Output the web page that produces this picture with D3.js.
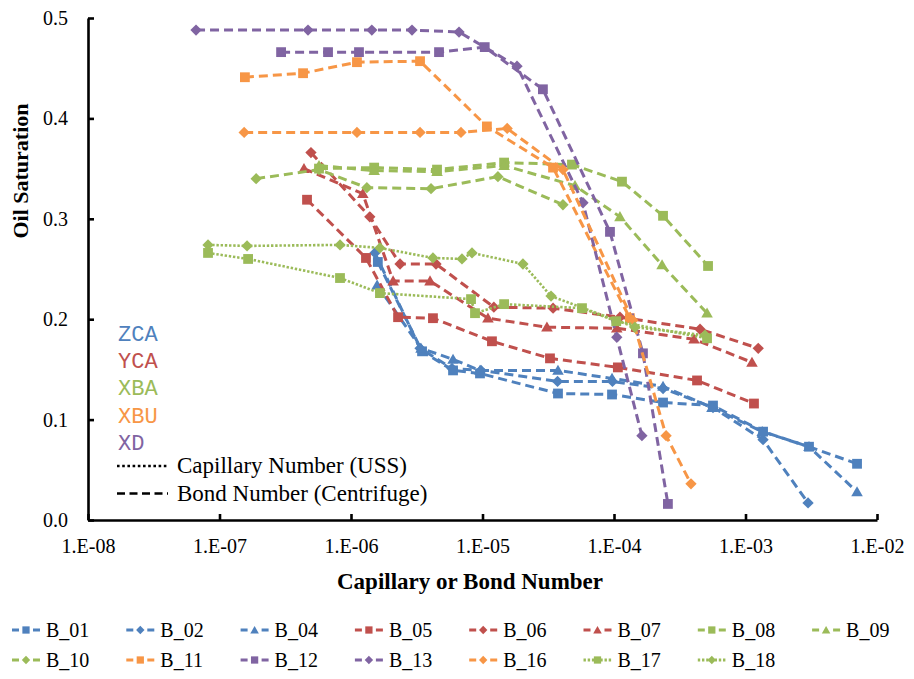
<!DOCTYPE html>
<html>
<head>
<meta charset="utf-8">
<script src="https://cdn.jsdelivr.net/npm/d3@7"></script>
<style>
  body { margin: 0; background: #fff; }
  svg { display: block; font-family: "Liberation Serif", "Times New Roman", serif; }
</style>
</head>
<body>
<svg id="chart"></svg>
<script>
// Axis ticks
const X_TICKS = [1e-8, 1e-7, 1e-6, 1e-5, 1e-4, 1e-3, 1e-2];
const X_TICK_LABELS = ["1.E-08", "1.E-07", "1.E-06", "1.E-05", "1.E-04", "1.E-03", "1.E-02"];
const Y_TICKS = [0, 0.1, 0.2, 0.3, 0.4, 0.5];

// Series data: capillary / bond number vs oil saturation
const B01_X = [1.60e-6, 3.47e-6, 5.97e-6, 9.57e-6, 3.75e-5, 9.66e-5, 2.36e-4, 5.66e-4, 1.36e-3, 3.04e-3, 7.05e-3];
const B01_Y = [0.257, 0.168, 0.149, 0.146, 0.126, 0.125, 0.117, 0.114, 0.088, 0.073, 0.056];
const B02_X = [1.52e-6, 3.35e-6, 5.86e-6, 9.74e-6, 3.72e-5, 9.74e-5, 2.36e-4, 5.66e-4, 1.36e-3, 2.99e-3];
const B02_Y = [0.266, 0.171, 0.151, 0.149, 0.138, 0.138, 0.131, 0.112, 0.080, 0.017];
const B04_X = [1.58e-6, 3.41e-6, 5.97e-6, 9.57e-6, 3.75e-5, 9.66e-5, 2.36e-4, 5.56e-4, 1.34e-3, 3.04e-3, 7.05e-3];
const B04_Y = [0.234, 0.171, 0.160, 0.149, 0.149, 0.141, 0.133, 0.112, 0.088, 0.073, 0.028];
const B05_X = [4.63e-7, 1.30e-6, 2.28e-6, 4.20e-6, 1.18e-5, 3.26e-5, 1.07e-4, 4.28e-4, 1.16e-3];
const B05_Y = [0.319, 0.261, 0.202, 0.201, 0.178, 0.161, 0.152, 0.139, 0.116];
const B06_X = [4.96e-7, 1.39e-6, 2.36e-6, 4.43e-6, 1.22e-5, 3.44e-5, 1.11e-4, 4.51e-4, 1.25e-3];
const B06_Y = [0.366, 0.302, 0.255, 0.255, 0.212, 0.211, 0.202, 0.190, 0.171];
const B07_X = [4.39e-7, 1.23e-6, 2.09e-6, 3.99e-6, 1.10e-5, 3.09e-5, 1.05e-4, 4.06e-4, 1.12e-3];
const B07_Y = [0.350, 0.325, 0.238, 0.238, 0.201, 0.192, 0.191, 0.180, 0.157];
const B08_X = [5.71e-7, 1.50e-6, 4.51e-6, 1.46e-5, 4.79e-5, 1.15e-4, 2.36e-4, 5.19e-4];
const B08_Y = [0.350, 0.351, 0.349, 0.356, 0.354, 0.337, 0.303, 0.253];
const B09_X = [5.71e-7, 1.50e-6, 4.51e-6, 1.46e-5, 5.05e-5, 1.11e-4, 2.32e-4, 5.10e-4];
const B09_Y = [0.353, 0.348, 0.347, 0.353, 0.333, 0.302, 0.254, 0.206];
const B10_X = [1.90e-7, 5.71e-7, 1.32e-6, 4.06e-6, 1.31e-5, 4.09e-5];
const B10_Y = [0.340, 0.349, 0.331, 0.330, 0.342, 0.314];
const B11_X = [1.56e-7, 4.32e-7, 1.11e-6, 3.35e-6, 1.08e-5, 3.44e-5, 1.32e-4];
const B11_Y = [0.441, 0.445, 0.456, 0.457, 0.392, 0.351, 0.201];
const B12_X = [2.94e-7, 6.69e-7, 1.15e-6, 4.67e-6, 1.04e-5, 2.88e-5, 9.32e-5, 1.66e-4, 2.57e-4];
const B12_Y = [0.466, 0.466, 0.466, 0.466, 0.471, 0.429, 0.287, 0.166, 0.016];
const B13_X = [6.63e-8, 4.71e-7, 1.44e-6, 2.91e-6, 6.63e-6, 1.83e-5, 5.81e-5, 1.05e-4, 1.63e-4];
const B13_Y = [0.488, 0.488, 0.488, 0.488, 0.486, 0.452, 0.316, 0.182, 0.084];
const B16_X = [1.54e-7, 1.11e-6, 3.35e-6, 6.86e-6, 1.54e-5, 4.09e-5, 1.39e-4, 2.49e-4, 3.85e-4];
const B16_Y = [0.386, 0.386, 0.386, 0.386, 0.390, 0.349, 0.199, 0.084, 0.036];
const B17_X = [8.18e-8, 1.65e-7, 8.25e-7, 1.66e-6, 8.18e-6, 8.77e-6, 1.46e-5, 5.71e-5, 1.04e-4, 5.10e-4];
const B17_Y = [0.266, 0.260, 0.241, 0.226, 0.220, 0.206, 0.215, 0.211, 0.198, 0.181];
const B18_X = [8.18e-8, 1.62e-7, 8.25e-7, 1.66e-6, 4.20e-6, 6.98e-6, 8.32e-6, 2.03e-5, 3.32e-5, 1.44e-4, 4.92e-4];
const B18_Y = [0.274, 0.273, 0.274, 0.271, 0.261, 0.260, 0.266, 0.255, 0.223, 0.192, 0.184];

const SERIES_NAMES = ["B_01", "B_02", "B_04", "B_05", "B_06", "B_07", "B_08", "B_09",
                      "B_10", "B_11", "B_12", "B_13", "B_16", "B_17", "B_18"];
const SERIES_X = [B01_X, B02_X, B04_X, B05_X, B06_X, B07_X, B08_X, B09_X, B10_X, B11_X, B12_X, B13_X, B16_X, B17_X, B18_X];
const SERIES_Y = [B01_Y, B02_Y, B04_Y, B05_Y, B06_Y, B07_Y, B08_Y, B09_Y, B10_Y, B11_Y, B12_Y, B13_Y, B16_Y, B17_Y, B18_Y];
const SERIES_GROUP = ["ZCA", "ZCA", "ZCA", "YCA", "YCA", "YCA", "XBA", "XBA",
                      "XBA", "XBU", "XD", "XD", "XBU", "XBA", "XBA"];

const GROUPS = ["ZCA", "YCA", "XBA", "XBU", "XD"];
const METHOD_LABELS = ["Capillary Number (USS)", "Bond Number (Centrifuge)"];

// Styles
const SERIF = "Liberation Serif, Times New Roman, serif";
const MONO = "Liberation Mono, Courier New, monospace";
const GROUP_COLORS = { ZCA: "#4F81BD", YCA: "#C0504D", XBA: "#9BBB59", XBU: "#F79646", XD: "#8064A2" };
const SERIES_SHAPE = ["square", "diamond", "triangle", "square", "diamond", "triangle", "square", "triangle",
                      "diamond", "square", "square", "diamond", "diamond", "square", "diamond"];
const SERIES_DOTTED = [false, false, false, false, false, false, false, false,
                       false, false, false, false, false, true, true];
const DASHED = "9,5";
const DOTTED = "2.4,1.8";

const W = 914, H = 679;
const svg = d3.select("#chart").attr("width", W).attr("height", H);

const x = d3.scaleLog().domain([1e-8, 1e-2]).range([88, 877]);
const y = d3.scaleLinear().domain([0, 0.5]).range([520, 18]);

function markerPath(shape, scale) {
  if (shape === "triangle") return d3.symbol().type(d3.symbolTriangle).size(58 * scale)();
  if (shape === "diamond") return d3.symbol().type(d3.symbolSquare).size(64 * scale)();
  return d3.symbol().type(d3.symbolSquare).size(96 * scale)();
}

function markerTransform(shape, px, py) {
  if (shape === "diamond") return `translate(${px},${py}) rotate(45)`;
  if (shape === "triangle") return `translate(${px},${py + 1})`;
  return `translate(${px},${py})`;
}

const series = SERIES_NAMES.map((name, i) => ({
  name,
  color: GROUP_COLORS[SERIES_GROUP[i]],
  shape: SERIES_SHAPE[i],
  dotted: SERIES_DOTTED[i],
  points: SERIES_X[i].map((v, j) => ({ x: v, y: SERIES_Y[i][j] })),
}));

const line = d3.line().x(d => x(d.x)).y(d => y(d.y));

// Series lines and markers
const plot = svg.append("g");
series.forEach(s => {
  const g = plot.append("g");
  g.append("path")
    .attr("d", line(s.points))
    .attr("fill", "none")
    .attr("stroke", s.color)
    .attr("stroke-width", s.dotted ? 2.6 : 3)
    .attr("stroke-dasharray", s.dotted ? DOTTED : DASHED);
  g.selectAll("path.marker")
    .data(s.points)
    .join("path")
    .attr("class", "marker")
    .attr("d", markerPath(s.shape, 1))
    .attr("transform", d => markerTransform(s.shape, x(d.x), y(d.y)))
    .attr("fill", s.color);
});

// Axes
const xAxisG = svg.append("g")
  .attr("transform", "translate(0,520)")
  .call(d3.axisBottom(x).tickValues(X_TICKS).tickFormat((d, i) => X_TICK_LABELS[i])
    .tickSizeInner(-6).tickSizeOuter(0).tickPadding(19));
const yAxisG = svg.append("g")
  .attr("transform", "translate(88,0)")
  .call(d3.axisLeft(y).tickValues(Y_TICKS).tickFormat(d3.format(".1f"))
    .tickSizeInner(-6).tickSizeOuter(0).tickPadding(20));

[xAxisG, yAxisG].forEach(g => {
  g.attr("font-family", SERIF).attr("font-size", 20);
  g.selectAll("path.domain").attr("stroke", "#000").attr("stroke-width", 2.6);
  g.selectAll(".tick line").attr("stroke", "#000").attr("stroke-width", 2.6);
  g.selectAll(".tick text").attr("fill", "#000");
});

// Axis titles
svg.append("text")
  .attr("x", 470).attr("y", 589)
  .attr("text-anchor", "middle")
  .attr("font-family", SERIF)
  .attr("font-size", 23).attr("font-weight", "bold")
  .text("Capillary or Bond Number");

svg.append("text")
  .attr("transform", "translate(28,171) rotate(-90)")
  .attr("text-anchor", "middle")
  .attr("font-family", SERIF)
  .attr("font-size", 22).attr("font-weight", "bold")
  .text("Oil Saturation");

// In-plot legend: sample groups
svg.append("g").selectAll("text")
  .data(GROUPS)
  .join("text")
  .attr("x", 118)
  .attr("y", (d, i) => 341 + i * 27.2)
  .attr("font-family", MONO)
  .attr("font-size", 22)
  .attr("fill", d => GROUP_COLORS[d])
  .text(d => d);

// In-plot legend: measurement method line styles
METHOD_LABELS.forEach((label, i) => {
  const ly = 466 + i * 27.5;
  svg.append("line")
    .attr("x1", 117).attr("x2", 168).attr("y1", ly).attr("y2", ly)
    .attr("stroke", "#000").attr("stroke-width", 2.6)
    .attr("stroke-dasharray", i === 0 ? "2.6,2.6" : "8,4.5");
  svg.append("text")
    .attr("x", 177).attr("y", ly + 7)
    .attr("font-family", SERIF)
    .attr("font-size", 23)
    .text(label);
});

// Bottom legend
const legend = svg.append("g");
series.forEach((s, i) => {
  const col = i % 8, row = Math.floor(i / 8);
  const lx = 12 + col * 114.3, ly = 630 + row * 30;
  legend.append("line")
    .attr("x1", lx).attr("x2", lx + 28).attr("y1", ly).attr("y2", ly)
    .attr("stroke", s.color).attr("stroke-width", 3)
    .attr("stroke-dasharray", s.dotted ? "2.4,1.8" : "7,14,7");
  legend.append("path")
    .attr("d", markerPath(s.shape, 0.55))
    .attr("transform", markerTransform(s.shape, lx + 14, ly))
    .attr("fill", s.color);
  legend.append("text")
    .attr("x", lx + 34).attr("y", ly + 7)
    .attr("font-family", SERIF)
    .attr("font-size", 20)
    .text(s.name);
});
</script>
</body>
</html>
